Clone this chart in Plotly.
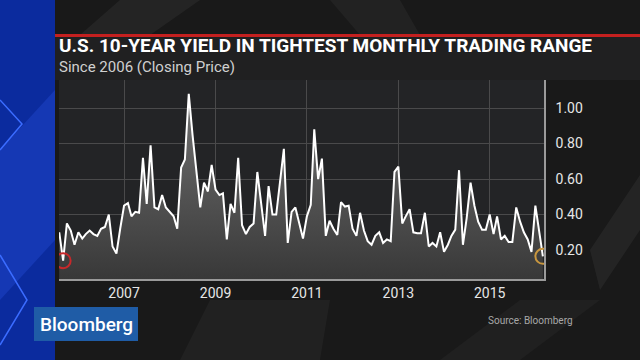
import pandas as pd
import plotly.graph_objects as go

# ---- data (monthly trading range of US 10Y yield, percentage points) ----
start_month = "2005-08-01"
ranges = [
    0.30, 0.14, 0.35, 0.31, 0.23, 0.30, 0.265, 0.29, 0.31, 0.29,
    0.28, 0.32, 0.33, 0.40, 0.22, 0.18, 0.32, 0.45, 0.465, 0.39,
    0.415, 0.41, 0.72, 0.46, 0.79, 0.44, 0.43, 0.51, 0.44, 0.415,
    0.39, 0.32, 0.665, 0.71, 1.08, 0.85, 0.63, 0.44, 0.58, 0.53,
    0.68, 0.54, 0.51, 0.52, 0.26, 0.46, 0.41, 0.72, 0.34, 0.29,
    0.33, 0.35, 0.64, 0.45, 0.28, 0.56, 0.40, 0.40, 0.58, 0.77,
    0.24, 0.415, 0.44, 0.35, 0.265, 0.39, 0.455, 0.88, 0.60, 0.715,
    0.28, 0.365, 0.32, 0.285, 0.47, 0.445, 0.45, 0.32, 0.28, 0.41,
    0.31, 0.25, 0.23, 0.28, 0.30, 0.24, 0.26, 0.25, 0.64, 0.67,
    0.35, 0.39, 0.43, 0.30, 0.295, 0.295, 0.41, 0.22, 0.24, 0.22,
    0.30, 0.19, 0.23, 0.28, 0.315, 0.65, 0.23, 0.38, 0.58, 0.45,
    0.36, 0.315, 0.315, 0.40, 0.29, 0.39, 0.26, 0.28, 0.245, 0.245,
    0.44, 0.36, 0.30, 0.26, 0.19, 0.45, 0.29, 0.165,
]
months = pd.date_range(start_month, periods=len(ranges), freq="MS")
year_ticks = ["2007", "2009", "2011", "2013", "2015"]
y_ticks = [0.2, 0.4, 0.6, 0.8, 1.0]
highlight_idx = [1, len(ranges) - 1]
highlight_colors = ["#c8282a", "#c9973f"]

title = "U.S. 10-YEAR YIELD IN TIGHTEST MONTHLY TRADING RANGE"
subtitle = "Since 2006 (Closing Price)"
source = "Source: Bloomberg"

# ---- geometry helpers (pixel -> paper) ----
W, H = 640, 360
L, R, T, B = 59, 544, 80, 279


def px(x):
    return (x - L) / (R - L)


def py(y):
    return (B - y) / (B - T)


fig = go.Figure()
fig.add_trace(go.Scatter(
    x=months, y=ranges, mode="lines",
    line=dict(color="#ffffff", width=2),
    fill="tozeroy",
    fillgradient=dict(type="vertical", start=0.03, stop=1.1,
                      colorscale=[[0, "rgba(56,56,56,1)"], [1, "rgba(115,115,115,1)"]]),
    hoverinfo="skip", showlegend=False,
))
fig.add_trace(go.Scatter(
    x=[months[i] for i in highlight_idx], y=[ranges[i] for i in highlight_idx],
    mode="markers",
    marker=dict(symbol="circle-open", size=15, color=highlight_colors,
                line=dict(width=2, color=highlight_colors)),
    hoverinfo="skip", showlegend=False,
))

shapes = []
# left blue panel
shapes.append(dict(type="rect", xref="paper", yref="paper", x0=px(-2), x1=px(55),
                   y0=py(H + 2), y1=py(-2), fillcolor="#0b2b9e", line=dict(width=0), layer="below"))
shapes.append(dict(type="path", xref="paper", yref="paper",
                   path=f"M {px(0)},{py(150)} L {px(55)},{py(90)} L {px(55)},{py(240)} L {px(0)},{py(300)} Z",
                   fillcolor="rgba(40,80,220,0.35)", line=dict(width=0), layer="below"))
for seg in [((0, 255), (27, 300), (0, 345)), ((0, 100), (22, 124), (0, 150))]:
    path = "M " + " L ".join(f"{px(a)},{py(b)}" for a, b in seg)
    shapes.append(dict(type="path", xref="paper", yref="paper", path=path,
                       line=dict(color="#3b6cff", width=1.5), layer="below"))
# subtle diagonal wedges in background
for pts, col in [
    ([(120, 0), (200, 0), (150, 35), (80, 35)], "rgba(255,255,255,0.05)"),
    ([(330, 0), (400, 0), (420, 35), (360, 35)], "rgba(255,255,255,0.04)"),
    ([(180, 360), (320, 360), (330, 300), (210, 300)], "rgba(255,255,255,0.035)"),
    ([(440, 360), (520, 360), (600, 300), (520, 300)], "rgba(255,255,255,0.03)"),
    ([(590, 250), (640, 175), (640, 230), (600, 290)], "rgba(255,255,255,0.05)"),
]:
    path = "M " + " L ".join(f"{px(a)},{py(b)}" for a, b in pts) + " Z"
    shapes.append(dict(type="path", xref="paper", yref="paper", path=path,
                       fillcolor=col, line=dict(width=0), layer="below"))
# title band and red rule
shapes.append(dict(type="rect", xref="paper", yref="paper", x0=px(55), x1=px(W + 2),
                   y0=py(80), y1=py(36), fillcolor="#202021", line=dict(width=0), layer="below"))
shapes.append(dict(type="rect", xref="paper", yref="paper", x0=px(55), x1=px(W + 2),
                   y0=py(37), y1=py(34), fillcolor="#c4201f", line=dict(width=0), layer="below"))
# Bloomberg logo box
shapes.append(dict(type="rect", xref="paper", yref="paper", x0=px(34), x1=px(138),
                   y0=py(341), y1=py(307), fillcolor="#1f5ca6", line=dict(width=0), layer="below"))

annotations = [
    dict(text=f"<b>{title}</b>", x=px(57), y=py(46), xref="paper", yref="paper",
         xanchor="left", yanchor="middle", showarrow=False,
         font=dict(family="Roboto", size=19, color="#ffffff")),
    dict(text=subtitle, x=px(57), y=py(67), xref="paper", yref="paper",
         xanchor="left", yanchor="middle", showarrow=False,
         font=dict(family="Roboto", size=15, color="#d0d0d0")),
    dict(text="Bloomberg", x=px(86), y=py(324), xref="paper", yref="paper",
         xanchor="center", yanchor="middle", showarrow=False,
         font=dict(family="Roboto", size=19, color="#ffffff", weight=500)),
    dict(text=source, x=px(575), y=py(320), xref="paper", yref="paper",
         xanchor="right", yanchor="middle", showarrow=False,
         font=dict(family="Roboto", size=10, color="#a8a8a8")),
]

fig.update_layout(
    width=W, height=H,
    margin=dict(l=L, r=W - R, t=T, b=H - B, pad=0),
    paper_bgcolor="#191919",
    plot_bgcolor="#232426",
    shapes=shapes,
    annotations=annotations,
    showlegend=False,
    font=dict(family="Roboto", color="#e6e6e6"),
    xaxis=dict(
        type="date", range=["2005-07-30", "2016-03-10"],
        tickvals=[pd.Timestamp(f"{y}-01-01") for y in year_ticks], ticktext=year_ticks,
        showgrid=True, gridcolor="#4a4a4b", gridwidth=1,
        showline=True, linecolor="#9a9a9a", linewidth=1.5,
        ticks="", tickfont=dict(size=14, color="#e6e6e6"),
        zeroline=False,
    ),
    yaxis=dict(
        side="right", range=[0.037, 1.158],
        tickvals=y_ticks, ticktext=[f"{v:.2f}" for v in y_ticks],
        showgrid=True, gridcolor="#4a4a4b", gridwidth=1,
        showline=True, linecolor="#9a9a9a", linewidth=1.5,
        ticks="outside", ticklen=7, tickcolor="rgba(0,0,0,0)",
        tickfont=dict(size=14, color="#e6e6e6"),
        zeroline=False,
    ),
)

fig.write_html(
    "out.html",
    config={"displayModeBar": False},
    post_script="document.body.style.margin='0';document.body.style.overflow='hidden';",
)
